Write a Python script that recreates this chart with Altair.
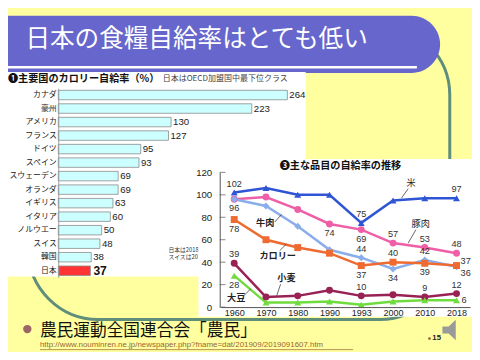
import altair as alt
import pandas as pd

# ---------------- data ----------------
countries = ["カナダ", "豪州", "アメリカ", "フランス", "ドイツ", "スペイン", "スウェーデン",
             "オランダ", "イギリス", "イタリア", "ノルウエー", "スイス", "韓国", "日本"]
calorie_rates = [264, 223, 130, 127, 95, 93, 69, 69, 63, 60, 50, 48, 38, 37]

years = ["1960", "1970", "1980", "1990", "1993", "2000", "2010", "2018"]
series_names = ["米", "豚肉", "牛肉", "カロリー", "小麦", "大豆"]
rice = [102, 106, 100, 100, 75, 95, 97, 97]
pork = [96, 98, 87, 74, 69, 57, 53, 48]
beef = [96, 90, 72, 51, 44, 34, 42, 36]
calorie = [78, 60, 53, 48, 37, 40, 39, 37]
wheat = [39, 9, 10, 15, 10, 11, 9, 12]
soy = [28, 4, 4, 5, 2, 5, 6, 6]
y_ticks = [0, 20, 40, 60, 80, 100, 120]

labels_above = [("米", "1960"), ("小麦", "1960"), ("米", "1993"), ("豚肉", "2000"), ("豚肉", "2010"),
                ("豚肉", "2018"), ("米", "2018"), ("牛肉", "1993"), ("カロリー", "2000"),
                ("牛肉", "2010"), ("小麦", "1993"), ("小麦", "2010"), ("小麦", "2018")]
labels_below = [("豚肉", "1960"), ("カロリー", "1960"), ("大豆", "1960"), ("豚肉", "1990"),
                ("豚肉", "1993"), ("カロリー", "1993"), ("牛肉", "2000"), ("カロリー", "2010")]
labels_right_up = [("カロリー", "2018")]
labels_right_down = [("牛肉", "2018")]
labels_right = [("大豆", "2018")]

title_text = "日本の食糧自給率はとても低い"
bar_title = "❶主要国のカロリー自給率（%）"
bar_note = "日本はOECD加盟国中最下位クラス"
bar_foot1 = "日本は2018年度、"
bar_foot2 = "スイスは2017年度"
line_title = "❸主な品目の自給率の推移"
source_text = "農民運動全国連合会「農民」"
url_text = "http://www.nouminren.ne.jp/newspaper.php?fname=dat/201909/2019091607.htm"
page_no = "15"

# ---------------- styling helpers ----------------
W, H = 464, 344
SX, SY = W / 480, H / 360
FS = 0.965
JP = "Noto Sans CJK JP"
LAT = "Liberation Sans"


def px(v):
    return round(v * SX, 2)


def py(v):
    return round(v * SY, 2)


one = alt.Data(values=[{"k": 0}])


def txt(s, x, y, size, color="#222222", font=JP, weight="normal", align="left",
        baseline="middle", **extra):
    return alt.Chart(one).mark_text(
        text=s, font=font, fontSize=size * FS, color=color, fontWeight=weight,
        align=align, baseline=baseline, **extra
    ).encode(x=alt.value(px(x)), y=alt.value(py(y)))


def box(x1, y1, x2, y2, fill, stroke=None, sw=0, r=0):
    kw = dict(fill=fill, cornerRadius=r)
    if stroke:
        kw.update(stroke=stroke, strokeWidth=sw)
    else:
        kw.update(strokeWidth=0)
    return alt.Chart(one).mark_rect(**kw).encode(
        x=alt.value(px(x1)), x2=alt.value(px(x2)), y=alt.value(py(y1)), y2=alt.value(py(y2)))


def seg(x1, y1, x2, y2, color="#333333", sw=1.0):
    return alt.Chart(one).mark_rule(color=color, strokeWidth=sw).encode(
        x=alt.value(px(x1)), x2=alt.value(px(x2)), y=alt.value(py(y1)), y2=alt.value(py(y2)))


layers = []

# slide decorations
layers.append(box(21, 18, 457, 326, "transparent", stroke="#5F8E7A", sw=3, r=70))
layers.append(box(-40, 8, 447, 68, "#6666CC", r=30))
layers.append(seg(0, 62, 423, 62, "#FFFFFF", 2.5))
layers.append(txt(title_text, 18, 34, 25.5, color="#FFFFFF"))

# ---------------- bar chart ----------------
layers.append(box(0, 67, 308, 281, "#FFFFFF"))
layers.append(txt(bar_title, 0, 74, 10.5, color="#111111", weight="bold"))
layers.append(txt(bar_note, 160, 74, 8.3, color="#444444"))
layers.append(txt(bar_foot1, 166, 253, 6, color="#333333", limit=px(199) - px(166), ellipsis=" "))
layers.append(txt(bar_foot2, 166, 261, 6, color="#333333", limit=px(199) - px(166), ellipsis=" "))

bar_df = pd.DataFrame({"country": countries, "rate": calorie_rates})
yb_scale = alt.Scale(domain=countries, range=[py(84), py(282)], paddingInner=0.3, paddingOuter=0.15)
xb_scale = alt.Scale(domain=[0, 264], range=[px(52), px(289)], nice=False, zero=True)

bars = alt.Chart(bar_df).mark_bar(stroke="#8C8C8C", strokeWidth=0.8).encode(
    x=alt.X("rate:Q", scale=xb_scale, axis=None),
    y=alt.Y("country:N", scale=yb_scale,
            axis=alt.Axis(orient="left", offset=-px(52), title=None, ticks=False,
                          labelFontSize=7.9, labelColor="#222222", labelFont=JP,
                          domainColor="#9A9A9A", labelPadding=2, grid=False, zindex=1)),
    color=alt.condition(alt.datum.country == "日本", alt.value("#FF3333"), alt.value("#CCFFFF")),
)
layers.append(bars)
layers.append(
    alt.Chart(bar_df).transform_filter(alt.datum.country != "日本").mark_text(
        align="left", baseline="middle", dx=2, font=LAT, fontSize=10 * FS, color="#222222"
    ).encode(x=alt.X("rate:Q", scale=xb_scale, axis=None),
             y=alt.Y("country:N", scale=yb_scale, axis=None), text="rate:Q"))
layers.append(
    alt.Chart(bar_df).transform_filter(alt.datum.country == "日本").mark_text(
        align="left", baseline="middle", dx=3, font=LAT, fontSize=12.5 * FS, color="#111111",
        fontWeight="bold"
    ).encode(x=alt.X("rate:Q", scale=xb_scale, axis=None),
             y=alt.Y("country:N", scale=yb_scale, axis=None), text="rate:Q"))

# ---------------- line chart ----------------
layers.append(box(197, 158, 490, 323, "#FFFFFF"))
layers.append(txt(line_title, 281, 165, 10.5, color="#111111", weight="bold"))

vals = {"米": rice, "豚肉": pork, "牛肉": beef, "カロリー": calorie, "小麦": wheat, "大豆": soy}
rows = []
for s in series_names:
    for yr, v in zip(years, vals[s]):
        rows.append({"series": s, "year": yr, "value": v})
line_df = pd.DataFrame(rows)

colors = ["#2F55D4", "#EE5FA8", "#8AAEEA", "#EE6A30", "#992255", "#6FDC3E"]
shapes = ["triangle-up", "circle", "diamond", "square", "circle", "triangle-up"]

xl_scale = alt.Scale(domain=years, range=[px(220), px(478)], padding=0.426)
yl_scale = alt.Scale(domain=[0, 120], range=[py(313), py(172)], nice=False, zero=True)
col = alt.Color("series:N", scale=alt.Scale(domain=series_names, range=colors), legend=None)

layers.append(
    alt.Chart(line_df).mark_line(strokeWidth=2.5).encode(
        x=alt.X("year:O", scale=xl_scale,
                axis=alt.Axis(orient="bottom", offset=py(313) - H, title=None, ticks=False,
                              labelFontSize=9, labelFont=LAT, labelColor="#222222",
                              domainColor="#555555", labelPadding=1, labelAngle=0, grid=False,
                              zindex=1)),
        y=alt.Y("value:Q", scale=yl_scale,
                axis=alt.Axis(orient="left", offset=-px(219), values=y_ticks, title=None,
                              ticks=False, labelFontSize=10 * FS, labelFont=LAT,
                              labelColor="#222222", domainColor="#555555", labelPadding=8,
                              grid=False, zindex=1)),
        color=col,
    ))
tick_df = pd.DataFrame({"value": y_ticks})
layers.append(
    alt.Chart(tick_df).mark_tick(color="#555555", thickness=1, size=6 * SX).encode(
        x=alt.value(px(222)), y=alt.Y("value:Q", scale=yl_scale, axis=None)))
layers.append(
    alt.Chart(line_df).mark_point(filled=True, size=48, opacity=1).encode(
        x=alt.X("year:O", scale=xl_scale, axis=None),
        y=alt.Y("value:Q", scale=yl_scale, axis=None),
        color=col,
        shape=alt.Shape("series:N", scale=alt.Scale(domain=series_names, range=shapes), legend=None),
    ))


def label_layer(keys, dx, dy, align):
    lk = set(keys)
    d = line_df[[(s, y) in lk for s, y in zip(line_df["series"], line_df["year"])]]
    return alt.Chart(d).mark_text(
        align=align, baseline="middle", dx=dx, dy=dy, font=LAT, fontSize=9.5 * FS, color="#333333"
    ).encode(x=alt.X("year:O", scale=xl_scale, axis=None),
             y=alt.Y("value:Q", scale=yl_scale, axis=None), text="value:Q")


layers.append(label_layer(labels_above, 0, -9, "center"))
layers.append(label_layer(labels_below, 0, 9, "center"))
layers.append(label_layer(labels_right_up, 4, -5, "left"))
layers.append(label_layer(labels_right_down, 4, 6, "left"))
layers.append(label_layer(labels_right, 5, 0, "left"))

# series name annotations with leader lines
layers.append(txt("米", 417, 183, 9.5, color="#222222", align="center"))
layers.append(seg(414, 189, 407, 199, "#444444", 0.8))
layers.append(txt("豚肉", 427, 226, 9.5, color="#222222", align="center"))
layers.append(seg(422, 232, 414, 246, "#444444", 0.8))
layers.append(txt("牛肉", 266, 225, 9.5, color="#222222", align="center", weight="bold"))
layers.append(seg(276, 224, 283, 216, "#444444", 0.8))
layers.append(txt("カロリー", 279, 260, 9.5, color="#222222", align="center", weight="bold"))
layers.append(seg(281, 254, 288, 247, "#444444", 0.8))
layers.append(txt("小麦", 288, 283, 9.5, color="#222222", align="center", weight="bold"))
layers.append(seg(282, 289, 278, 301, "#444444", 0.8))
layers.append(txt("大豆", 236, 304, 9.5, color="#222222", align="center", weight="bold"))
layers.append(seg(243, 302, 251, 294, "#444444", 0.8))

# ---------------- footer ----------------
layers.append(
    alt.Chart(one).mark_point(filled=True, shape="circle", size=70, color="#9C6666", opacity=1)
    .encode(x=alt.value(px(20)), y=alt.value(py(336))))
layers.append(txt(source_text, 33, 337.5, 17.3, color="#111111"))
layers.append(txt(url_text, 33, 352.5, 8.2, color="#996633", font=LAT))
layers.append(seg(33, 357.5, 357, 357.5, "#996633", 0.7))
layers.append(
    alt.Chart(one).mark_point(filled=True, shape="circle", size=8, color="#996633", opacity=1)
    .encode(x=alt.value(px(436)), y=alt.value(py(346))))
layers.append(txt(page_no, 439, 345, 8, color="#222222", font=LAT, weight="bold"))
layers.append(
    alt.Chart(one).mark_point(
        filled=True, size=420, color="#9A9A9A", opacity=1,
        shape="M-1,-0.35L-0.4,-0.35L0.3,-1L0.3,1L-0.4,0.35L-1,0.35Z"
    ).encode(x=alt.value(px(460)), y=alt.value(py(337))))

chart = alt.layer(*layers).resolve_scale(
    x="independent", y="independent", color="independent", shape="independent"
).properties(
    width=W, height=H, background="#FFFFA0", padding=0,
    autosize=alt.AutoSizeParams(type="none"),
).configure_view(strokeWidth=0)

chart.save("out.html", embed_options={"renderer": "svg", "actions": False})
